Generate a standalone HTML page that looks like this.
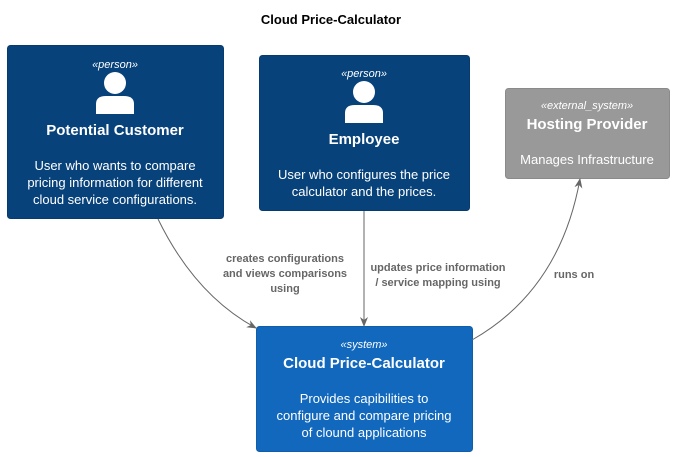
<!DOCTYPE html>
<html><head><meta charset="utf-8"><style>
body{margin:0;background:#fff;}
svg{display:block;font-family:"Liberation Sans",Arial,sans-serif;}
</style></head><body>
<svg width="676" height="457" viewBox="0 0 676 457" xmlns="http://www.w3.org/2000/svg">
<defs><marker id="a" markerWidth="10" markerHeight="10" refX="9" refY="5" orient="auto" markerUnits="userSpaceOnUse"><path d="M0,1 L10,5 L0,9 L3,5 Z" fill="#666"/></marker></defs>
<text x="331" y="24" text-anchor="middle" font-size="13" font-weight="bold">Cloud Price-Calculator</text>

<rect x="7.5" y="45.5" width="216" height="173" rx="3" fill="#08427B" stroke="#073B6F"/>
<text x="115" y="68" text-anchor="middle" font-size="11" font-style="italic" fill="#fff">«person»</text>
<circle cx="115" cy="83" r="11" fill="#fff"/>
<path d="M96,114 L96,104 Q96,96 106,96 L124,96 Q134,96 134,104 L134,114 Z" fill="#fff"/>
<text x="115" y="135" text-anchor="middle" font-size="15" font-weight="bold" fill="#fff">Potential Customer</text>
<text text-anchor="middle" font-size="13" fill="#fff"><tspan x="115" y="170">User who wants to compare</tspan><tspan x="115" y="187">pricing information for different</tspan><tspan x="115" y="204">cloud service configurations.</tspan></text>

<rect x="259.5" y="55.5" width="210" height="155" rx="3" fill="#08427B" stroke="#073B6F"/>
<text x="364" y="77" text-anchor="middle" font-size="11" font-style="italic" fill="#fff">«person»</text>
<circle cx="364" cy="92" r="11" fill="#fff"/>
<path d="M345,123 L345,113 Q345,105 355,105 L373,105 Q383,105 383,113 L383,123 Z" fill="#fff"/>
<text x="364" y="144" text-anchor="middle" font-size="15" font-weight="bold" fill="#fff">Employee</text>
<text text-anchor="middle" font-size="13" fill="#fff"><tspan x="364" y="179">User who configures the price</tspan><tspan x="364" y="196">calculator and the prices.</tspan></text>

<rect x="505.5" y="88.5" width="164" height="90" rx="3" fill="#999999" stroke="#8A8A8A"/>
<text x="587" y="109" text-anchor="middle" font-size="11" font-style="italic" fill="#fff">«external_system»</text>
<text x="587" y="129" text-anchor="middle" font-size="15" font-weight="bold" fill="#fff">Hosting Provider</text>
<text x="587" y="164" text-anchor="middle" font-size="13" fill="#fff">Manages Infrastructure</text>

<rect x="256.5" y="326.5" width="216" height="125" rx="3" fill="#1168BD" stroke="#0F5EAA"/>
<text x="364" y="348" text-anchor="middle" font-size="11" font-style="italic" fill="#fff">«system»</text>
<text x="364" y="368" text-anchor="middle" font-size="15" font-weight="bold" fill="#fff">Cloud Price-Calculator</text>
<text text-anchor="middle" font-size="13" fill="#fff"><tspan x="364" y="403">Provides capibilities to</tspan><tspan x="364" y="420">configure and compare pricing</tspan><tspan x="364" y="437">of clound applications</tspan></text>

<path d="M158,219 Q195,295 256,328" fill="none" stroke="#666" marker-end="url(#a)"/>
<path d="M364,211 L364,326" fill="none" stroke="#666" marker-end="url(#a)"/>
<path d="M472,340 Q560,290 580,179" fill="none" stroke="#666" marker-end="url(#a)"/>

<g font-size="11" font-weight="bold" fill="#666" text-anchor="middle">
<text x="285" y="262">creates configurations</text>
<text x="285" y="277">and views comparisons</text>
<text x="285" y="292">using</text>
<text x="438" y="271">updates price information</text>
<text x="438" y="286">/ service mapping using</text>
<text x="574" y="278">runs on</text>
</g>
</svg>
</body></html>
